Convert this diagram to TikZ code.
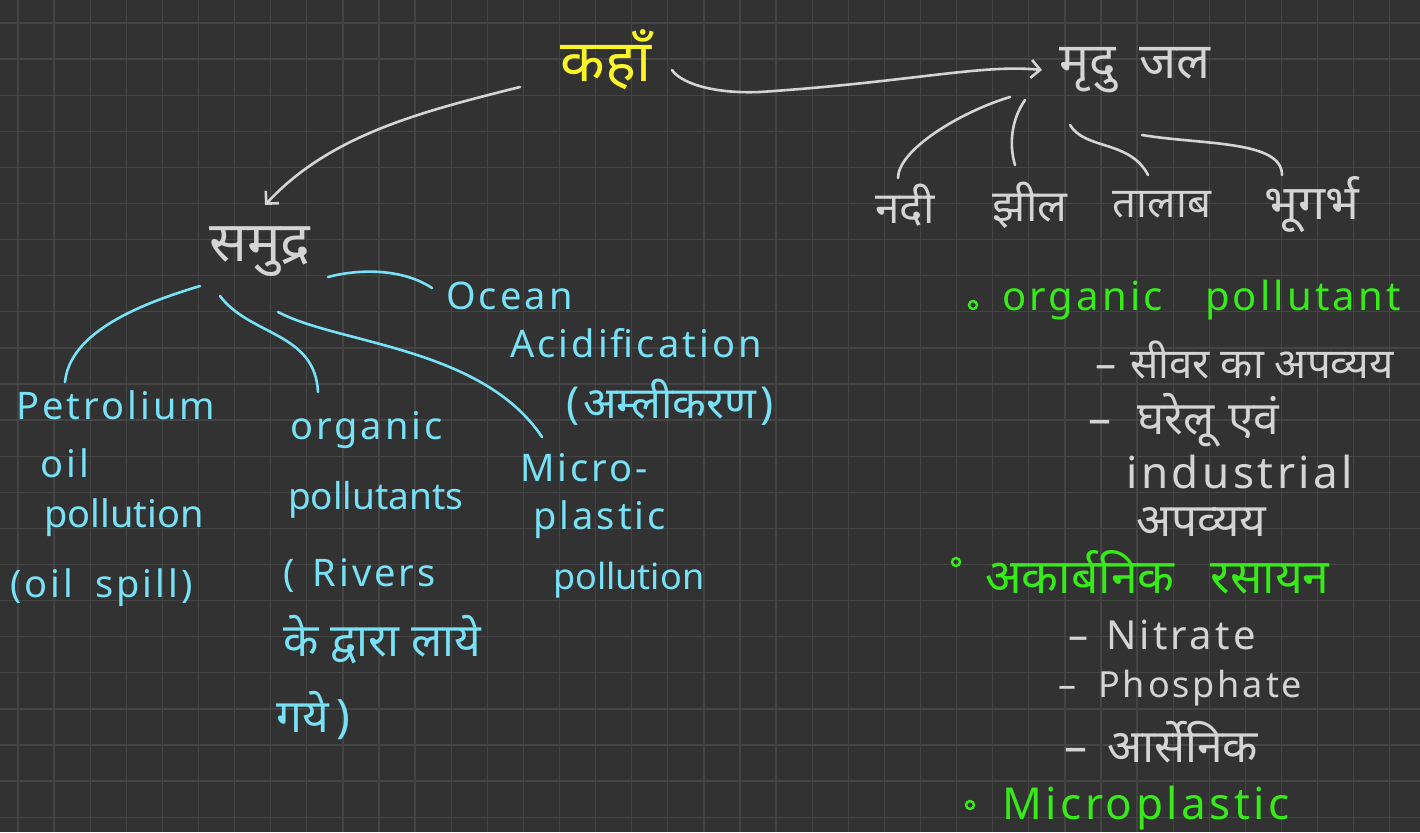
\documentclass[tikz,border=0pt]{standalone}
\usepackage{fontspec}
\usetikzlibrary{arrows.meta}
\newfontfamily\dev[Script=Devanagari]{Noto Sans}
\newfontfamily\lat[LetterSpace=8]{Noto Sans}
\newfontfamily\latn{Noto Sans}
\definecolor{bgc}{RGB}{50,50,50}
\definecolor{gridc}{RGB}{68,68,68}
\definecolor{gtxt}{RGB}{212,212,212}
\definecolor{ytxt}{RGB}{250,245,40}
\definecolor{ctxt}{RGB}{120,225,245}
\definecolor{gn}{RGB}{55,235,25}
\tikzset{
  gray label/.style={text=gtxt, inner sep=0pt},
  cyan label/.style={text=ctxt, inner sep=0pt, anchor=west},
  green label/.style={text=gn, inner sep=0pt, anchor=west},
  gray item/.style={text=gtxt, inner sep=0pt, anchor=west},
  gconn/.style={draw=gtxt, line width=2.6pt, line cap=round},
  cconn/.style={draw=ctxt, line width=2.6pt, line cap=round},
  barb/.style={-{Straight Barb[length=9pt,width=18pt,line width=2.6pt]}},
  bulletc/.style={circle, draw=gn, line width=2.4pt, minimum size=8pt, inner sep=0pt},
}
\newcommand{\dv}[1]{\dev\fontsize{#1}{#1}\selectfont}
\newcommand{\lt}[1]{\lat\fontsize{#1}{#1}\selectfont}
\newcommand{\ltn}[1]{\latn\fontsize{#1}{#1}\selectfont}
\begin{document}
\begin{tikzpicture}[x=1pt,y=-1pt]
\fill[bgc] (0,0) rectangle (1420,832);
\useasboundingbox (0,0) rectangle (1420,832);
\foreach \gx in {0,...,39} { \draw[gridc, line width=1.3pt] (18+36.1*\gx,0) -- (18+36.1*\gx,832); }
\foreach \gy in {0,...,22} { \draw[gridc, line width=1.3pt] (0,23+36.1*\gy) -- (1420,23+36.1*\gy); }

% top
\node[text=ytxt, inner sep=0pt, font=\dv{58}] (kaha) at (606,60) {कहाँ};
\node[gray label, font=\dv{50}] (mridu) at (1135,70) {मृदु\hspace{24pt}जल};
\node[gray label, font=\dv{44}] (nadi) at (905,205) {नदी};
\node[gray label, font=\dv{44}] (jheel) at (1030,205) {झील};
\node[gray label, font=\dv{42}] (talab) at (1162,205) {तालाब};
\node[gray label, font=\dv{48}] (bhug) at (1312,205) {भूगर्भ};
\node[gray label, font=\dv{56}] (samudra) at (260,252) {समुद्र};

% left cyan
\node[cyan label, font=\lt{38}] (ocean) at (446,296) {Ocean};
\node[cyan label, font=\lt{38}] (acid) at (510,343) {Acidification};
\node[cyan label, font=\dv{44}] (amli) at (566,402) {(\hspace{4pt}अम्लीकरण\hspace{4pt})};
\node[cyan label, font=\lt{38}] (petro) at (16,405) {Petrolium};
\node[cyan label, font=\lt{38}] (oil) at (40,463) {oil};
\node[cyan label, font=\ltn{38}] (poll1) at (44,518) {pollution};
\node[cyan label, font=\lt{38}] (spill) at (10,588) {(oil\hspace{22pt}spill)};
\node[cyan label, font=\lt{38}] (org) at (290,430) {organic};
\node[cyan label, font=\ltn{37}] (pollts) at (288,500) {pollutants};
\node[cyan label, font=\lt{38}] (rivers) at (283,575) {(\hspace{18pt}Rivers};
\node[cyan label, font=\dv{46}] (dwara) at (283,640) {के द्वारा लाये};
\node[cyan label, font=\dv{46}] (gaye) at (276,716) {गये\hspace{8pt})};
\node[cyan label, font=\lt{38}] (micro) at (520,468) {Micro-};
\node[cyan label, font=\lt{38}] (plastic) at (533,520) {plastic};
\node[cyan label, font=\ltn{36}] (poll2) at (553,580) {pollution};

% right list
\node[bulletc] (b1) at (973,305) {};
\node[green label, font=\lt{40}] (orgp) at (1002,300) {organic\hspace{42pt}pollutant};
\node[gray item, font=\dv{42}] (sewer) at (1095,360) {–\hspace{14pt}सीवर का अपव्यय};
\node[gray item, font=\dv{46}] (gharelu) at (1088,420) {–\hspace{26pt}घरेलू\hspace{14pt}एवं};
\node[gray item, font=\lt{44}] (indus) at (1126,472) {industrial};
\node[gray item, font=\dv{46}] (apvyay) at (1136,522) {अपव्यय};
\node[bulletc] (b2) at (956,562) {};
\node[green label, font=\dv{48}] (akarb) at (985,572) {अकार्बनिक\hspace{36pt}रसायन};
\node[gray item, font=\lt{40}] (nitrate) at (1068,635) {–\hspace{18pt}Nitrate};
\node[gray item, font=\lt{36}] (phos) at (1058,688) {–\hspace{22pt}Phosphate};
\node[gray item, font=\dv{46}] (arsenic) at (1064,742) {–\hspace{20pt}आर्सेनिक};
\node[bulletc] (b3) at (970,805) {};
\node[green label, font=\lt{44}] (micropl) at (1002,808) {Microplastic};

% grey connectors
\draw[gconn, barb] ([shift={(66,10)}]kaha.center) .. controls +(8,12) and +(-50,2) .. +(88,22)
  .. controls +(150,-10) and +(-60,-6) .. ([shift={(-93,0)}]mridu.center);
\draw[gconn, barb] ([shift={(-86,27)}]kaha.center) .. controls +(-100,25) and +(65,-70) .. ([shift={(5,-47)}]samudra.center);
\draw[gconn] ([shift={(-125,27)}]mridu.center) .. controls +(-50,15) and +(0,-28) .. ([shift={(-7,-27)}]nadi.center);
\draw[gconn] ([shift={(-110,30)}]mridu.center) .. controls +(-14,20) and +(-6,-20) .. ([shift={(-15,-40)}]jheel.center);
\draw[gconn] ([shift={(-65,55)}]mridu.center) .. controls +(15,25) and +(-18,-35) .. ([shift={(-14,-30)}]talab.center);
\draw[gconn] ([shift={(7,65)}]mridu.center) .. controls +(60,10) and +(0,-35) .. ([shift={(-30,-30)}]bhug.center);

% cyan connectors
\draw[cconn] ([shift={(-60,34)}]samudra.center) .. controls +(-60,18) and +(5,-50) .. ([shift={(49,-23)}]petro.west);
\draw[cconn] ([shift={(-40,44)}]samudra.center) .. controls +(30,40) and +(-3,-60) .. ([shift={(28,-38)}]org.west);
\draw[cconn] ([shift={(18,60)}]samudra.center) .. controls +(60,32) and +(-60,-90) .. ([shift={(22,-31)}]micro.west);
\draw[cconn] ([shift={(68,25)}]samudra.center) .. controls +(30,-8) and +(-30,-20) .. ([shift={(-14,-8)}]ocean.west);
\end{tikzpicture}
\end{document}
